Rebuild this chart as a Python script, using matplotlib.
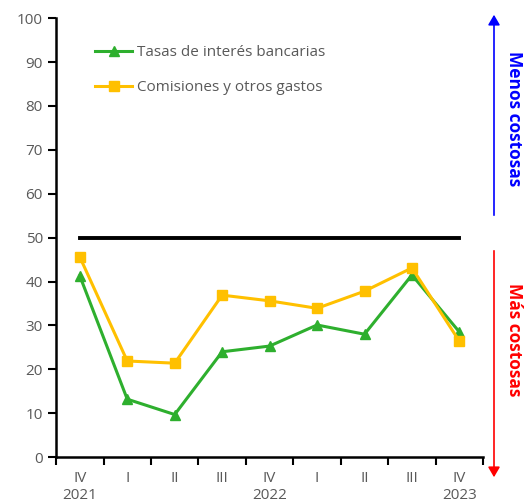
import matplotlib.pyplot as plt
import numpy as np

plt.rcParams['font.family'] = ['Open Sans', 'DejaVu Sans']

quarters = ["IV", "I", "II", "III", "IV", "I", "II", "III", "IV"]
years = ["2021", "", "", "", "2022", "", "", "", "2023"]
tasas = [41.3, 13.2, 9.7, 24.0, 25.3, 30.1, 28.0, 41.5, 28.5]
comisiones = [45.6, 21.9, 21.4, 36.9, 35.6, 33.9, 37.8, 43.1, 26.4]
umbral = 50

fig = plt.figure(figsize=(5.24, 5.04), dpi=100)
ax = fig.add_axes([0.107, 0.093, 0.815, 0.871])

x = np.arange(len(quarters))
ax.plot(x, tasas, color="#2eaf2e", marker="^", markersize=7.5, linewidth=2.2,
        label="Tasas de interés bancarias")
ax.plot(x, comisiones, color="#ffc000", marker="s", markersize=7.5, linewidth=2.2,
        label="Comisiones y otros gastos")
ax.plot([x[0], x[-1]], [umbral, umbral], color="black", linewidth=2.8)

ax.set_xlim(-0.5, len(quarters) - 0.5)
ax.set_ylim(0, 100)
ax.set_yticks(range(0, 101, 10))
ax.set_xticks(x)
ax.set_xticklabels([f"{q}\n{y}" for q, y in zip(quarters, years)], linespacing=1.2)
ax.set_xticks(np.arange(-0.5, len(quarters)), minor=True)
ax.tick_params(axis="x", which="major", length=0, pad=10, labelsize=11, labelcolor="#595959")
ax.tick_params(axis="x", which="minor", length=6, width=1.5, direction="out")
ax.tick_params(axis="y", length=6, width=1.5, labelsize=11, labelcolor="#595959")

for s in ["top", "right"]:
    ax.spines[s].set_visible(False)
for s in ["left", "bottom"]:
    ax.spines[s].set_linewidth(1.8)

ax.legend(loc="upper left", bbox_to_anchor=(0.06, 0.97), frameon=False,
          fontsize=11, labelcolor="#595959", handlelength=2.4, handletextpad=0.3,
          labelspacing=1.3)

# side arrows
fig.patches.append(plt.matplotlib.patches.FancyArrowPatch(
    (494 / 524, 1 - 218 / 504), (494 / 524, 1 - 12 / 504), transform=fig.transFigure,
    arrowstyle="-|>,head_length=6,head_width=3.5", color="#0000ff", linewidth=1.2))
fig.patches.append(plt.matplotlib.patches.FancyArrowPatch(
    (494 / 524, 1 - 248 / 504), (494 / 524, 1 - 480 / 504), transform=fig.transFigure,
    arrowstyle="-|>,head_length=6,head_width=3.5", color="#ff0000", linewidth=1.2))
fig.text(514 / 524, 1 - 119 / 504, "Menos costosas", rotation=-90, color="#0000ff",
         fontsize=12.5, fontweight="bold", ha="center", va="center")
fig.text(514 / 524, 1 - 340 / 504, "Más costosas", rotation=-90, color="#ff0000",
         fontsize=12.5, fontweight="bold", ha="center", va="center")

fig.savefig("out.png", dpi=100)
